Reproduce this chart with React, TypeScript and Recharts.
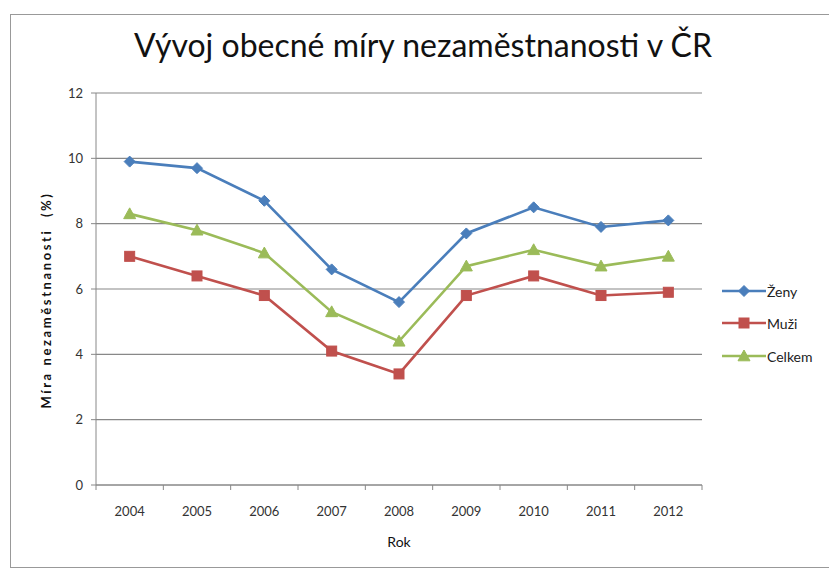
import React from 'react';
import { LineChart, Line, XAxis, YAxis, CartesianGrid } from 'recharts';

const years = ['2004', '2005', '2006', '2007', '2008', '2009', '2010', '2011', '2012'];
const zeny = [9.9, 9.7, 8.7, 6.6, 5.6, 7.7, 8.5, 7.9, 8.1];
const muzi = [7.0, 6.4, 5.8, 4.1, 3.4, 5.8, 6.4, 5.8, 5.9];
const celkem = [8.3, 7.8, 7.1, 5.3, 4.4, 6.7, 7.2, 6.7, 7.0];
const yTicks = [0, 2, 4, 6, 8, 10, 12];

const seriesNames = ['Ženy', 'Muži', 'Celkem'];
const colors = ['#4A7EBB', '#C0504D', '#9BBB59'];

const data = years.map((y, i) => ({ year: y, zeny: zeny[i], muzi: muzi[i], celkem: celkem[i] }));

const FONT = 'Lato, "Open Sans", sans-serif';

const Diamond = (props: any) => {
  const { cx, cy } = props;
  if (cx == null || cy == null) return null;
  const r = 5.5;
  return <path d={`M${cx},${cy - r}L${cx + r},${cy}L${cx},${cy + r}L${cx - r},${cy}Z`} fill={colors[0]} stroke={colors[0]} strokeWidth={1} />;
};
const Square = (props: any) => {
  const { cx, cy } = props;
  if (cx == null || cy == null) return null;
  const r = 5;
  return <rect x={cx - r} y={cy - r} width={2 * r} height={2 * r} fill={colors[1]} stroke={colors[1]} strokeWidth={1} />;
};
const Triangle = (props: any) => {
  const { cx, cy } = props;
  if (cx == null || cy == null) return null;
  const r = 6;
  return <path d={`M${cx},${cy - r}L${cx + r},${cy + r * 0.8}L${cx - r},${cy + r * 0.8}Z`} fill={colors[2]} stroke={colors[2]} strokeWidth={1} />;
};
const markers = [Diamond, Square, Triangle];

const XTick = (props: any) => {
  const { x, y, payload, index, width, visibleTicksCount } = props;
  const half = width / visibleTicksCount / 2;
  const axisY = y - 8;
  return (
    <g>
      <line x1={x - half} x2={x - half} y1={axisY} y2={axisY + 5} stroke="#888" />
      {index === visibleTicksCount - 1 && <line x1={x + half} x2={x + half} y1={axisY} y2={axisY + 5} stroke="#888" />}
      <text x={x} y={y + 23} textAnchor="middle" fontSize={13} fill="#333" fontFamily={FONT}>{payload.value}</text>
    </g>
  );
};

export default function App() {
  return (
    <div style={{ position: 'absolute', left: 0, top: 0, width: 829, height: 571, background: '#fff', fontFamily: FONT }}>
      <div style={{ position: 'absolute', left: 10, top: 14, width: 830, height: 554, border: '1px solid #999', boxSizing: 'border-box' }} />
      <div style={{ position: 'absolute', left: 0, top: 25, width: 846, textAlign: 'center', fontSize: 32, color: '#111', fontFamily: FONT }}>
        Vývoj obecné míry nezaměstnanosti v ČR
      </div>
      <div style={{ position: 'absolute', left: 46, top: 300, transform: 'translate(-50%, -50%) rotate(-90deg)', whiteSpace: 'nowrap', fontSize: 13, letterSpacing: 2.6, fontWeight: 'bold', color: '#111', fontFamily: FONT }}>
        Míra nezaměstnanosti&nbsp;&nbsp;(%)
      </div>
      <div style={{ position: 'absolute', left: 0, top: 0 }}>
        <LineChart width={829} height={571} data={data} margin={{ top: 93, left: 46, right: 127, bottom: 22 }}>
          <CartesianGrid vertical={false} stroke="#888" strokeWidth={1.2} />
          <XAxis dataKey="year" scale="band" interval={0} tickLine={false} axisLine={{ stroke: '#888' }} height={64} tick={<XTick />}
            label={{ value: 'Rok', position: 'insideBottom', offset: 2, fontSize: 14, fill: '#111', fontFamily: FONT }} />
          <YAxis domain={[0, 12]} ticks={yTicks} width={50} tickSize={5} tickLine={{ stroke: '#888' }} axisLine={{ stroke: '#888' }}
            tick={{ fontSize: 13, fill: '#333', fontFamily: FONT }} tickMargin={8} />
          {[zeny, muzi, celkem].map((_, i) => {
            const key = ['zeny', 'muzi', 'celkem'][i];
            const M = markers[i];
            return (
              <Line key={key} dataKey={key} name={seriesNames[i]} stroke={colors[i]} strokeWidth={2.6} isAnimationActive={false}
                dot={<M />} activeDot={false} />
            );
          })}
        </LineChart>
      </div>
      {seriesNames.map((n, i) => {
        const M = markers[i];
        const top = [291, 323, 356][i];
        return (
          <div key={n} style={{ position: 'absolute', left: 722, top: top - 10, height: 20, display: 'flex', alignItems: 'center' }}>
            <svg width={44} height={20}>
              <line x1={0} x2={44} y1={10} y2={10} stroke={colors[i]} strokeWidth={2.6} />
              <M cx={22} cy={10} />
            </svg>
            <span style={{ fontSize: 14, color: '#222', marginLeft: 1, fontFamily: FONT }}>{n}</span>
          </div>
        );
      })}
    </div>
  );
}
